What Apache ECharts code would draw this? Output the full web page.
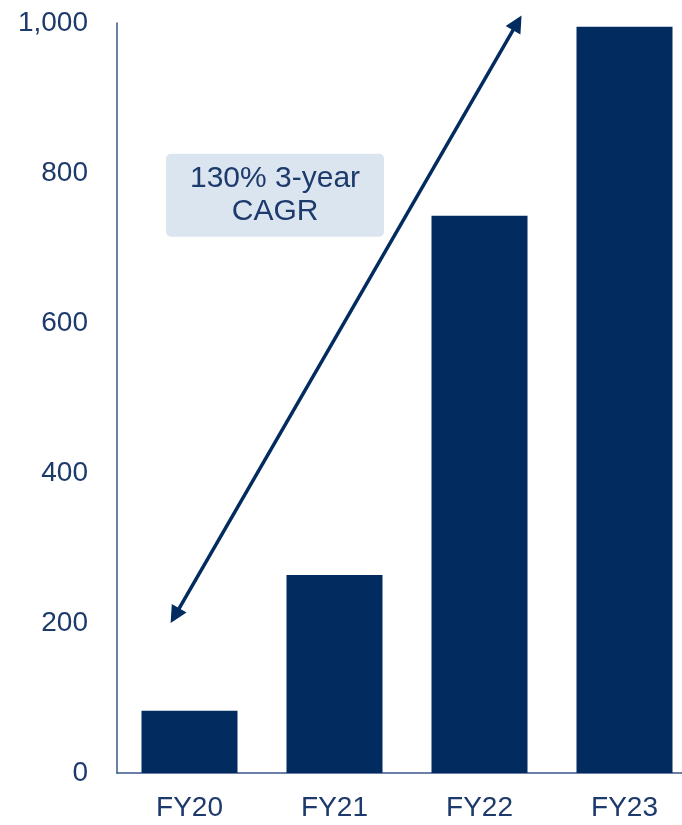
<!DOCTYPE html>
<html>
<head>
<meta charset="utf-8">
<script src="https://cdn.jsdelivr.net/npm/echarts@6/dist/echarts.min.js"></script>
<style>
  html, body { margin: 0; padding: 0; background: #fff; overflow: hidden; }
  #chart { width: 682px; height: 825px; }
</style>
</head>
<body>
<div id="chart"></div>
<script>
// data
const categories = ['FY20', 'FY21', 'FY22', 'FY23']
const revenue = [83, 264, 743, 995]
const yTicks = [0, 200, 400, 600, 800, 1000]

// annotation: [category position, value]
const arrowStart = [-0.13, 200]
const arrowEnd = [2.29, 1010]
const cagrLabel = '130% 3-year\nCAGR'
const cagrPos = [0.59, 771]

const navy = '#022b60'
const textColor = '#1d3a6c'
const font = '"Liberation Sans", Arial, sans-serif'

const chart = echarts.init(document.getElementById('chart'))

chart.setOption({
  animation: false,
  grid: {
    left: 117, top: 23, height: 750, width: 580,
    containLabel: false, outerBoundsMode: 'none'
  },
  xAxis: {
    type: 'category',
    data: categories,
    axisLine: { lineStyle: { color: '#3a5688', width: 1.5 } },
    axisTick: { show: false },
    axisLabel: { color: textColor, fontSize: 28, fontFamily: font, margin: 21 }
  },
  yAxis: {
    type: 'value',
    min: yTicks[0],
    max: yTicks[yTicks.length - 1],
    interval: 200,
    splitLine: { show: false },
    axisLine: { show: true, lineStyle: { color: '#3a5688', width: 1.5 } },
    axisTick: { show: false },
    axisLabel: {
      color: textColor, fontSize: 28, fontFamily: font, margin: 29,
      formatter: v => v.toLocaleString('en-US')
    }
  },
  series: [{
    type: 'bar',
    data: revenue,
    barWidth: 96,
    itemStyle: { color: navy }
  }]
})

// place annotation using the chart's own scales
function toPixel(pos) {
  const x0 = chart.convertToPixel({ xAxisIndex: 0 }, 0)
  const x1 = chart.convertToPixel({ xAxisIndex: 0 }, 1)
  const y = chart.convertToPixel({ yAxisIndex: 0 }, pos[1])
  return [x0 + pos[0] * (x1 - x0), y]
}

function arrowHead(tip, dir, len, half) {
  const [dx, dy] = dir
  const bx = tip[0] - dx * len, by = tip[1] - dy * len
  return [tip, [bx - dy * half, by + dx * half], [bx + dy * half, by - dx * half]]
}

const p1 = toPixel(arrowStart)
const p2 = toPixel(arrowEnd)
const L = Math.hypot(p2[0] - p1[0], p2[1] - p1[1])
const u = [(p2[0] - p1[0]) / L, (p2[1] - p1[1]) / L]
const headLen = 17
const c = toPixel(cagrPos)

chart.setOption({
  graphic: [
    {
      type: 'line',
      shape: {
        x1: p1[0] + u[0] * (headLen - 2), y1: p1[1] + u[1] * (headLen - 2),
        x2: p2[0] - u[0] * (headLen - 2), y2: p2[1] - u[1] * (headLen - 2)
      },
      style: { stroke: navy, lineWidth: 3.5 },
      z: 10
    },
    {
      type: 'polygon',
      shape: { points: arrowHead(p2, u, headLen, 8.5) },
      style: { fill: navy },
      z: 10
    },
    {
      type: 'polygon',
      shape: { points: arrowHead(p1, [-u[0], -u[1]], headLen, 8.5) },
      style: { fill: navy },
      z: 10
    },
    {
      type: 'rect',
      shape: { x: c[0] - 109, y: c[1] - 41, width: 218, height: 83, r: 5 },
      style: { fill: '#dbe5ef' },
      z: 11
    },
    {
      type: 'text',
      x: c[0],
      y: c[1],
      style: {
        text: cagrLabel,
        fill: textColor,
        font: '30px ' + font,
        align: 'center',
        verticalAlign: 'middle',
        lineHeight: 33
      },
      z: 12
    }
  ]
})
</script>
</body>
</html>
